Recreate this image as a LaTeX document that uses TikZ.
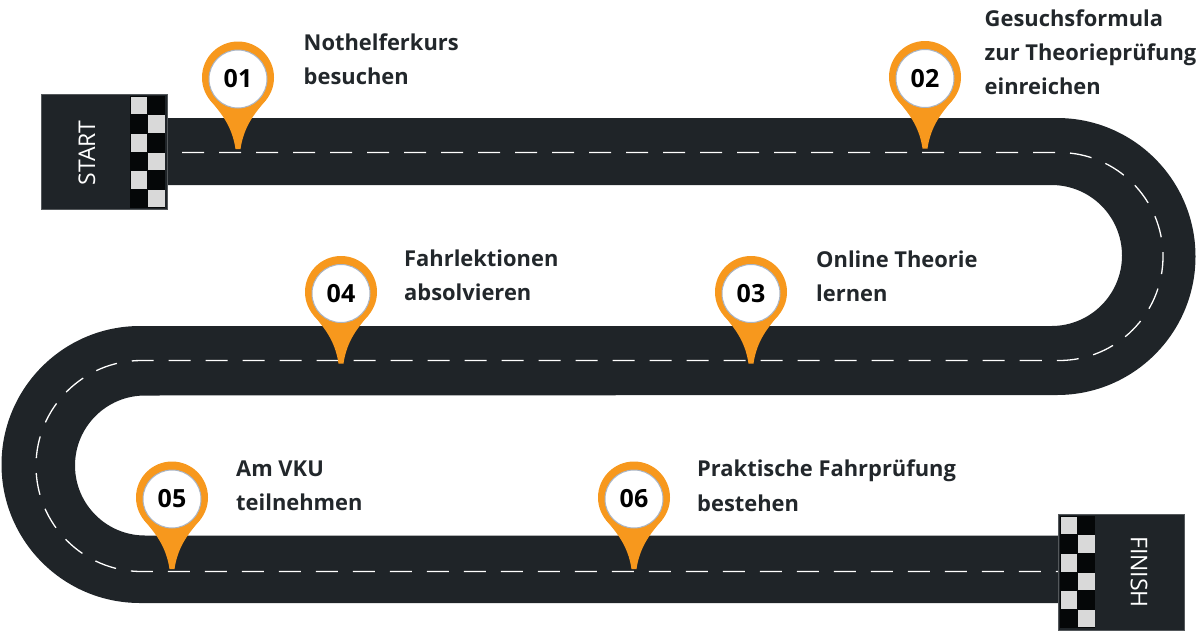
\documentclass[tikz,border=0pt]{standalone}
\usepackage{fontspec}
\setmainfont{Open Sans}
\definecolor{asphalt}{HTML}{1F2428}
\definecolor{pinorange}{HTML}{F7981D}
\definecolor{flagdark}{HTML}{050708}
\definecolor{flaglight}{HTML}{D9D9D9}
\definecolor{blockedge}{HTML}{54585B}
\definecolor{pinedge}{HTML}{A9B4C4}
\definecolor{labeltext}{HTML}{22272B}
\tikzset{
	centerline/.style={white, line width=1.3pt, dash pattern=on 22pt off 15pt},
	endblock/.style={fill=asphalt, draw=blockedge, line width=1pt},
	blocktext/.style={white, font=\fontsize{23}{23}\selectfont},
	pinface/.style={circle, fill=white, draw=pinedge, line width=1pt, minimum size=58pt, inner sep=0pt, text=black, font=\fontsize{25}{25}\selectfont\bfseries},
	steplabel/.style={anchor=north west, align=left, inner sep=0pt, text=labeltext, font=\fontsize{21.9}{34.2}\selectfont\bfseries},
}
% pin: name, x, y of the head, number
\newcommand{\roadpin}[4]{
	\fill[pinorange] (#2,#3-1.5) circle (36);
	\fill[pinorange] (#2-28,#3+21) .. controls (#2-18,#3+33) and (#2-6,#3+46) .. (#2-2.5,#3+70) -- (#2+2.5,#3+70) .. controls (#2+6,#3+46) and (#2+18,#3+33) .. (#2+28,#3+21) -- cycle;
	\node[pinface] (#1) at (#2,#3) {#4};
}
% flag: top left corner
\newcommand{\checkflag}[2]{
	\fill[flagdark] (#1,#2) rectangle +(35,112);
	\fill[flaglight] (#1+.5,#2+.5) rectangle +(16.5,17.5);
	\fill[flaglight] (#1+18,#2+19) rectangle +(16.5,17.5);
	\fill[flaglight] (#1+.5,#2+38) rectangle +(16.5,17.5);
	\fill[flaglight] (#1+18,#2+56.5) rectangle +(16.5,17.5);
	\fill[flaglight] (#1+.5,#2+75) rectangle +(16.5,17.5);
	\fill[flaglight] (#1+18,#2+93.5) rectangle +(16.5,17.5);
}
\begin{document}
\begin{tikzpicture}[x=1pt,y=-1pt]
	\useasboundingbox (0,0) rectangle (1200,630);
	% road
	\fill[asphalt] (160,118) -- (1057,118) arc (-90:90:138.5) -- (145,395.5) arc (270:90:70) -- (1065,535.5) -- (1065,603) -- (140,603) arc (90:270:138.5) -- (1051.5,326) arc (90:-90:70.5) -- (160,185) -- cycle;
	\draw[centerline] (182,152.5) -- (1059,152.5) arc (-90:90:104) -- (141.5,360.5) arc (270:90:105.5) -- (1065,571.5);
	% start and finish
	\draw[endblock] (41,94) rectangle (167,209);
	\checkflag{130}{96}
	\node[blocktext, rotate=90] (start) at (87,153) {START};
	\draw[endblock] (1058,514) rectangle (1184,630);
	\checkflag{1060}{516}
	\node[blocktext, rotate=-90] (finish) at (1139,572) {FINISH};
	% pins
	\roadpin{pinA}{238}{79}{01}
	\roadpin{pinB}{925}{78.5}{02}
	\roadpin{pinC}{751}{293.5}{03}
	\roadpin{pinD}{341}{293.5}{04}
	\roadpin{pinE}{172}{499}{05}
	\roadpin{pinF}{634}{499}{06}
	% labels
	\node[steplabel] (labelA) at (303.5,33.5) {Nothelferkurs\\besuchen};
	\node[steplabel] (labelB) at (984.5,9.5) {Gesuchsformula\\zur Theorieprüfung\\einreichen};
	\node[steplabel] (labelC) at (816,250.5) {Online Theorie\\lernen};
	\node[steplabel] (labelD) at (404,249.5) {Fahrlektionen\\absolvieren};
	\node[steplabel] (labelE) at (236,460.5) {Am VKU\\teilnehmen};
	\node[steplabel] (labelF) at (697,460) {Praktische Fahrprüfung\\bestehen};
\end{tikzpicture}
\end{document}
